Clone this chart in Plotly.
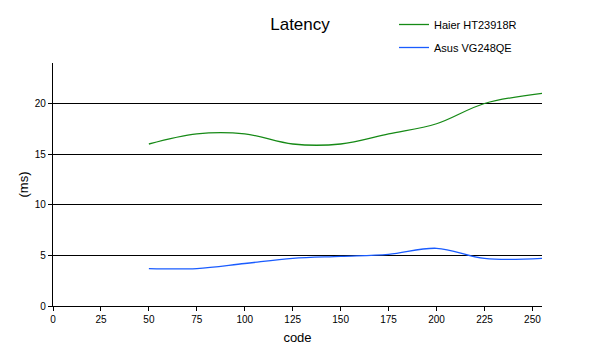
import plotly.graph_objects as go

codes = [50, 75, 100, 125, 150, 175, 200, 225, 255]
haier = [16.0, 17.0, 17.0, 16.0, 16.0, 17.0, 18.0, 20.0, 21.0]
asus = [3.7, 3.7, 4.2, 4.7, 4.9, 5.1, 5.7, 4.7, 4.7]
x_ticks = [0, 25, 50, 75, 100, 125, 150, 175, 200, 225, 250]
y_ticks = [0, 5, 10, 15, 20]

FONT = "Liberation Sans, Arial, sans-serif"

fig = go.Figure()
fig.add_trace(go.Scatter(x=codes, y=haier, name="Haier HT23918R", mode="lines",
                         line=dict(color="#168a16", width=1.3, shape="spline", smoothing=1),
                         legendgroup="a"))
fig.add_trace(go.Scatter(x=codes, y=asus, name="Asus VG248QE", mode="lines",
                         line=dict(color="#1a5cff", width=1.3, shape="spline", smoothing=1),
                         legendgroup="b"))

fig.update_layout(
    width=600, height=354,
    margin=dict(l=53, r=58, t=63, b=48, autoexpand=False),
    paper_bgcolor="white", plot_bgcolor="white",
    font=dict(family=FONT, color="black", size=10),
    title=dict(text="Latency", x=0.5, xanchor="center", y=1 - 24 / 354, yanchor="middle",
               font=dict(size=17, family=FONT)),
    showlegend=True,
    legend=dict(x=394 / 600, xref="container", y=1 - 10 / 354, yref="container",
                xanchor="left", yanchor="top", font=dict(size=11, family=FONT),
                tracegroupgap=4, bgcolor="rgba(0,0,0,0)"),
    xaxis=dict(range=[0, 255], tickvals=x_ticks, ticks="outside", ticklen=4,
               tickcolor="black", showline=True, linecolor="black", linewidth=1.2,
               showgrid=False, zeroline=False, tickfont=dict(size=10),
               title=dict(text="code", font=dict(size=13), standoff=8)),
    yaxis=dict(range=[0, 24], tickvals=y_ticks, ticks="outside", ticklen=4,
               tickcolor="black", showline=True, linecolor="black", linewidth=1.2,
               showgrid=True, gridcolor="black", gridwidth=1.2, zeroline=False,
               tickfont=dict(size=10),
               title=dict(text="(ms)", font=dict(size=13), standoff=3)),
)

fig.write_html("out.html")
